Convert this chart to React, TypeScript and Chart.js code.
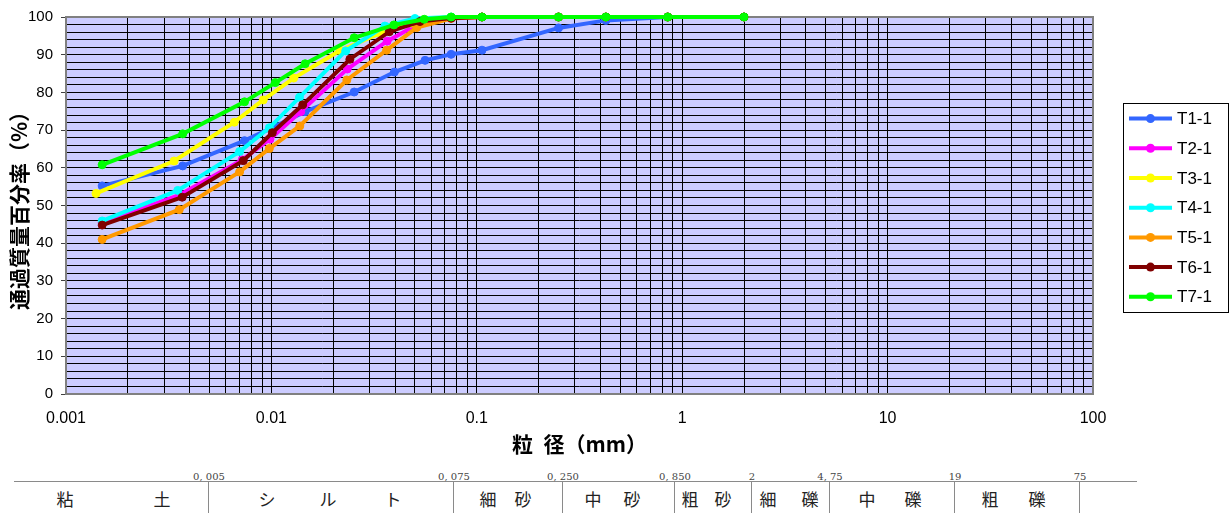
import React, { useEffect, useRef } from 'react';
import { Chart, registerables } from 'chart.js';

Chart.register(...registerables);

// ---- data ----
const seriesNames = ['T1-1', 'T2-1', 'T3-1', 'T4-1', 'T5-1', 'T6-1', 'T7-1'];
const seriesColors = ['#3366FF', '#FF00FF', '#FFFF00', '#00FFFF', '#FF9900', '#800000', '#00FF00'];

// sieve sizes (mm), common to every sample
const sieveSizes = [2, 0.85, 0.425, 0.25, 0.106, 0.075];

// hydrometer particle diameters (mm) per sample
const hydroT1 = [0.056, 0.0397, 0.0253, 0.0146, 0.0104, 0.0074, 0.0037, 0.0015];
const hydroT2 = [0.0525, 0.0366, 0.0234, 0.0139, 0.00984, 0.0072, 0.0036, 0.0015];
const hydroT3 = [0.0477, 0.0339, 0.0216, 0.01284, 0.00913, 0.0066, 0.00336, 0.0014];
const hydroT4 = [0.05, 0.0357, 0.023, 0.0137, 0.00977, 0.007, 0.0035, 0.0015];
const hydroT5 = [0.051, 0.0364, 0.0233, 0.01375, 0.00977, 0.007, 0.00356, 0.0015];
const hydroT6 = [0.0529, 0.0375, 0.0241, 0.0142, 0.0101, 0.0073, 0.00368, 0.0015];
const hydroT7 = [0.0555, 0.0395, 0.0253, 0.0146, 0.01045, 0.0074, 0.0037, 0.0015];

// percent passing (%) : sieve part then hydrometer part
const passT1 = [100, 100, 99.1, 97.1, 91.2, 90.1, 88.5, 85.4, 80.1, 74.9, 71.0, 67.2, 60.5, 55.2];
const passT2 = [100, 100, 100, 100, 100, 99.8, 98.3, 93.6, 86.2, 74.9, 67.6, 62.1, 52.9, 45.4];
const passT3 = [100, 100, 100, 100, 100, 99.9, 98.4, 95.7, 91.1, 83.8, 78.0, 72.1, 61.8, 53.2];
const passT4 = [100, 100, 100, 100, 100, 100, 99.6, 97.6, 91.0, 78.7, 70.6, 64.3, 54.0, 45.9];
const passT5 = [100, 100, 100, 100, 100, 99.6, 97.2, 91.2, 83.3, 71.1, 65.1, 58.9, 48.9, 41.0];
const passT6 = [100, 100, 100, 100, 100, 99.7, 98.8, 96.1, 88.8, 76.7, 69.3, 61.9, 52.2, 44.8];
const passT7 = [100, 100, 100, 100, 100, 100, 99.4, 97.9, 94.5, 87.6, 82.6, 77.5, 69.0, 60.8];

const hydroSizes = [hydroT1, hydroT2, hydroT3, hydroT4, hydroT5, hydroT6, hydroT7];
const passing = [passT1, passT2, passT3, passT4, passT5, passT6, passT7];

// axis ticks
const xTickValues = [0.001, 0.01, 0.1, 1, 10, 100];
const xTickLabels = ['0.001', '0.01', '0.1', '1', '10', '100'];
const yMin = 0;
const yMax = 100;
const yLabelStep = 10;
const yGridStep = 2;

const xTitle = '粒\u2002径（mm）';
const yTitle = '通過質量百分率（%）';

// classification table (soil fractions)
const boundaryLabels = ['0, 005', '0, 075', '0, 250', '0, 850', '2', '4, 75', '19', '75'];
const classChars = ['粘', '土', 'シ', 'ル', 'ト', '細', '砂', '中', '砂', '粗', '砂', '細', '礫', '中', '礫', '粗', '礫'];

// ---- layout constants (pixels, not data) ----
const W = 1231;
const H = 513;
const CANVAS_H = 460;
const boundaryX = [209, 454, 563, 675, 752, 830, 955, 1080];
const classCharX = [65, 162, 267, 328, 393, 488, 523, 593, 632, 690, 723, 768, 810, 867, 913, 990, 1037];
const TABLE_LINE_Y = 482;
const TABLE_LINE_X0 = 14;
const TABLE_LINE_X1 = 1137;

function makeXGrid(): number[] {
  const out: number[] = [];
  for (let e = -3; e <= 1; e++) {
    for (let m = 1; m <= 9; m++) {
      out.push(Number((m * Math.pow(10, e)).toPrecision(12)));
    }
  }
  out.push(100);
  return out;
}

function makeYGrid(): number[] {
  const out: number[] = [];
  for (let v = yMin; v <= yMax; v += yGridStep) out.push(v);
  return out;
}

const plotBgPlugin = {
  id: 'plotBg',
  beforeDraw(chart: any) {
    const { ctx, chartArea } = chart;
    ctx.save();
    ctx.fillStyle = '#CCCCFF';
    ctx.fillRect(chartArea.left, chartArea.top, chartArea.right - chartArea.left, chartArea.bottom - chartArea.top);
    ctx.restore();
  },
  beforeDatasetsDraw(chart: any) {
    const { ctx, chartArea } = chart;
    ctx.save();
    ctx.strokeStyle = '#808080';
    ctx.lineWidth = 2;
    ctx.strokeRect(chartArea.left, chartArea.top, chartArea.right - chartArea.left, chartArea.bottom - chartArea.top);
    ctx.restore();
  },
};

const boxLegendPlugin = {
  id: 'boxLegend',
  afterDraw(chart: any) {
    const { ctx } = chart;
    const left = 1123.5;
    const top = 103.5;
    const width = 105;
    const height = 209;
    ctx.save();
    ctx.fillStyle = '#FFFFFF';
    ctx.fillRect(left, top, width, height);
    ctx.strokeStyle = '#000000';
    ctx.lineWidth = 1;
    ctx.strokeRect(left, top, width, height);
    chart.data.datasets.forEach((ds: any, i: number) => {
      const y = 118.6 + i * 29.7;
      ctx.strokeStyle = ds.borderColor;
      ctx.lineWidth = 4;
      ctx.beginPath();
      ctx.moveTo(1129, y);
      ctx.lineTo(1172, y);
      ctx.stroke();
      ctx.fillStyle = ds.borderColor;
      ctx.beginPath();
      ctx.arc(1150.5, y, 4.5, 0, Math.PI * 2);
      ctx.fill();
      ctx.fillStyle = '#000000';
      ctx.font = '17px "Liberation Sans", Arial, sans-serif';
      ctx.textBaseline = 'middle';
      ctx.textAlign = 'left';
      ctx.fillText(ds.label, 1177, y + 1);
    });
    ctx.restore();
  },
};

export default function App() {
  const canvasRef = useRef<HTMLCanvasElement | null>(null);

  useEffect(() => {
    if (!canvasRef.current) return;
    const xGrid = makeXGrid();
    const yGrid = makeYGrid();

    const datasets = seriesNames.map((name, i) => {
      const sizes = [...sieveSizes, ...hydroSizes[i]];
      const data = sizes.map((s, k) => ({ x: s, y: passing[i][k] }));
      return {
        label: name,
        data,
        showLine: true,
        borderColor: seriesColors[i],
        backgroundColor: seriesColors[i],
        borderWidth: 4,
        pointRadius: 4,
        pointBorderWidth: 1,
        pointBorderColor: seriesColors[i],
        pointBackgroundColor: seriesColors[i],
        tension: 0,
        clip: false,
        order: seriesNames.length - 1 - i,
      };
    });

    const chart = new Chart(canvasRef.current, {
      type: 'scatter',
      data: { datasets },
      options: {
        animation: false,
        responsive: false,
        maintainAspectRatio: false,
        layout: { padding: { top: 14, right: 138, bottom: 0, left: 0 } },
        plugins: {
          legend: { display: false },
          tooltip: { enabled: false },
        },
        scales: {
          x: {
            type: 'logarithmic',
            min: xTickValues[0],
            max: xTickValues[xTickValues.length - 1],
            afterBuildTicks: (axis: any) => {
              axis.ticks = xGrid.map((v) => ({ value: v }));
            },
            afterFit: (axis: any) => {
              axis.height = CANVAS_H - 394;
            },
            grid: { color: '#000000', lineWidth: 1, drawTicks: false },
            border: { display: false },
            ticks: {
              autoSkip: false,
              maxRotation: 0,
              padding: 15,
              color: '#000000',
              font: { family: '"Liberation Sans", Arial, sans-serif', size: 16 },
              callback: (value: any) => {
                const v = Number(value);
                const idx = xTickValues.findIndex((t) => Math.abs(t - v) / t < 1e-9);
                return idx >= 0 ? xTickLabels[idx] : '';
              },
            },
            title: {
              display: true,
              text: xTitle,
              color: '#000000',
              font: { family: '"Noto Sans CJK JP", sans-serif', size: 21, weight: 'bold' },
              padding: { top: 0, bottom: 3 },
            },
          },
          y: {
            type: 'linear',
            min: yMin,
            max: yMax,
            afterBuildTicks: (axis: any) => {
              axis.ticks = yGrid.map((v) => ({ value: v }));
            },
            afterFit: (axis: any) => {
              axis.width = 66;
            },
            grid: {
              color: '#000000',
              lineWidth: 1,
              drawTicks: true,
              tickLength: 5,
              tickColor: (c: any) => (c.tick && c.tick.value % yLabelStep === 0 ? '#404040' : 'rgba(0,0,0,0)'),
            },
            border: { display: false },
            ticks: {
              autoSkip: false,
              padding: 8,
              color: '#000000',
              font: { family: '"Liberation Sans", Arial, sans-serif', size: 15 },
              callback: (value: any) => (Number(value) % yLabelStep === 0 ? String(value) : ''),
            },
            title: {
              display: true,
              text: yTitle,
              color: '#000000',
              font: { family: '"Noto Sans CJK JP", sans-serif', size: 21, weight: 'bold' },
              padding: { top: 6, bottom: 0 },
            },
          },
        },
      },
      plugins: [plotBgPlugin, boxLegendPlugin],
    } as any);

    return () => {
      chart.destroy();
    };
  }, []);

  return (
    <div
      style={{
        position: 'fixed',
        left: 0,
        top: 0,
        width: W,
        height: H,
        overflow: 'hidden',
        background: '#FFFFFF',
      }}
    >
      <canvas
        ref={canvasRef}
        width={W}
        height={CANVAS_H}
        style={{ position: 'absolute', left: 0, top: 0, width: W, height: CANVAS_H }}
      />
      <div
        style={{
          position: 'absolute',
          left: TABLE_LINE_X0,
          top: TABLE_LINE_Y - 1,
          width: TABLE_LINE_X1 - TABLE_LINE_X0,
          height: 0,
          borderTop: '1.5px solid #8a8a8a',
        }}
      />
      {boundaryX.map((x, i) => (
        <React.Fragment key={'b' + i}>
          <div
            style={{
              position: 'absolute',
              left: x - 0.75,
              top: TABLE_LINE_Y,
              width: 0,
              height: H - TABLE_LINE_Y,
              borderLeft: '1.5px solid #8a8a8a',
            }}
          />
          <div
            style={{
              position: 'absolute',
              left: x,
              top: 476,
              transform: 'translate(-50%, -50%)',
              font: '10px "DejaVu Serif", "Liberation Serif", serif',
              color: '#444444',
              whiteSpace: 'nowrap',
            }}
          >
            {boundaryLabels[i]}
          </div>
        </React.Fragment>
      ))}
      {classChars.map((c, i) => (
        <div
          key={'c' + i}
          style={{
            position: 'absolute',
            left: classCharX[i],
            top: 498,
            transform: 'translate(-50%, -50%)',
            font: '17px "Noto Sans CJK JP", sans-serif',
            color: '#222222',
            whiteSpace: 'nowrap',
            lineHeight: 1,
          }}
        >
          {c}
        </div>
      ))}
    </div>
  );
}
